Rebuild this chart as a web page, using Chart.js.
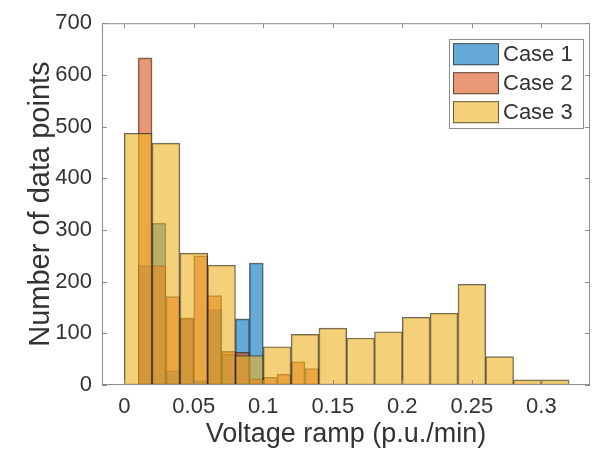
<!DOCTYPE html>
<html>
<head>
<meta charset="utf-8">
<script src="https://cdn.jsdelivr.net/npm/chart.js@4/dist/chart.umd.min.js"></script>
<style>
  html, body { margin: 0; padding: 0; background: #fff; }
  canvas { display: block; }
</style>
</head>
<body>
<canvas id="rampHist" width="608" height="457"></canvas>
<script>
// bin edges (p.u./min)
const fineEdges = [0.01, 0.02, 0.03, 0.04, 0.05, 0.06, 0.07, 0.08, 0.09, 0.10, 0.11, 0.12, 0.13, 0.14];
const coarseEdges = [0, 0.02, 0.04, 0.06, 0.08, 0.10, 0.12, 0.14, 0.16, 0.18, 0.20, 0.22, 0.24, 0.26, 0.28, 0.30, 0.32];

// counts per bin
const case1Counts = [231, 313, 28, 128, 8, 146, 60, 128, 236];
const case2Counts = [633, 231, 171, 130, 250, 173, 65, 63, 12, 15, 21, 45, 32];
const case3Counts = [487, 468, 255, 232, 57, 74, 98, 110, 91, 103, 131, 139, 195, 55, 10, 10];

const xTicks = [0, 0.05, 0.1, 0.15, 0.2, 0.25, 0.3];
const yTicks = [0, 100, 200, 300, 400, 500, 600, 700];

const seriesNames = ['Case 1', 'Case 2', 'Case 3'];

const FONT = '"Liberation Sans", Arial, Helvetica, sans-serif';
const textColor = '#333333';
const axisColor = '#8c8c8c';
const edgeColor = 'rgba(38, 38, 38, 0.7)';

// MATLAB default colors, FaceAlpha 0.6
const faceColors = [
  'rgba(0, 114, 189, 0.6)',
  'rgba(217, 83, 25, 0.6)',
  'rgba(237, 177, 32, 0.6)'
];

function toBars(edges, counts) {
  return counts.map((c, i) => ({ x: (edges[i] + edges[i + 1]) / 2, y: c }));
}

function fixedTicks(list) {
  return function (scale) {
    scale.ticks = list.map(v => ({ value: v }));
  };
}

function barSet(i, data, axis, order) {
  return {
    label: seriesNames[i],
    data: data,
    xAxisID: axis,
    order: order,
    backgroundColor: faceColors[i],
    borderColor: edgeColor,
    borderWidth: 1,
    borderSkipped: false,
    grouped: false,
    categoryPercentage: 1,
    barPercentage: 1
  };
}

// box round the axes with inward ticks on all four sides
const axesBox = {
  id: 'axesBox',
  afterDatasetsDraw(chart) {
    const { ctx, chartArea: a, scales } = chart;
    const tickLen = 5;
    ctx.save();
    ctx.strokeStyle = axisColor;
    ctx.lineWidth = 1;
    ctx.strokeRect(a.left + 0.5, a.top + 0.5, a.width - 1, a.height - 1);
    ctx.beginPath();
    scales.x.ticks.forEach(t => {
      const px = Math.round(scales.x.getPixelForValue(t.value)) + 0.5;
      ctx.moveTo(px, a.bottom); ctx.lineTo(px, a.bottom - tickLen);
      ctx.moveTo(px, a.top); ctx.lineTo(px, a.top + tickLen);
    });
    scales.y.ticks.forEach(t => {
      const py = Math.round(scales.y.getPixelForValue(t.value)) + 0.5;
      ctx.moveTo(a.left, py); ctx.lineTo(a.left + tickLen, py);
      ctx.moveTo(a.right, py); ctx.lineTo(a.right - tickLen, py);
    });
    ctx.stroke();
    ctx.restore();
  }
};

// legend box in the upper right corner of the axes
const cornerLegend = {
  id: 'cornerLegend',
  afterDraw(chart) {
    const { ctx, chartArea: a } = chart;
    const sets = chart.data.datasets.slice().sort((p, q) => seriesNames.indexOf(p.label) - seriesNames.indexOf(q.label));
    const boxW = 134, rowH = 29, padTop = 4;
    const right = a.right - 7, top = a.top + 16;
    const left = right - boxW;
    const boxH = padTop * 2 + rowH * sets.length - 6;
    ctx.save();
    ctx.fillStyle = '#ffffff';
    ctx.fillRect(left, top, boxW, boxH);
    ctx.strokeStyle = axisColor;
    ctx.lineWidth = 1;
    ctx.strokeRect(Math.round(left) + 0.5, Math.round(top) + 0.5, boxW, Math.round(boxH));
    ctx.font = '22px ' + FONT;
    ctx.textBaseline = 'middle';
    ctx.textAlign = 'left';
    sets.forEach((ds, i) => {
      const y0 = top + padTop + i * rowH;
      ctx.fillStyle = ds.backgroundColor;
      ctx.fillRect(left + 4, y0, 46, 22);
      ctx.strokeStyle = edgeColor;
      ctx.strokeRect(left + 4.5, y0 + 0.5, 45, 21);
      ctx.fillStyle = textColor;
      ctx.fillText(ds.label, left + 54, y0 + 12);
    });
    ctx.restore();
  }
};

new Chart(document.getElementById('rampHist'), {
  type: 'bar',
  data: {
    datasets: [
      barSet(0, toBars(fineEdges, case1Counts), 'xFine', 3),
      barSet(1, toBars(fineEdges, case2Counts), 'xFine', 2),
      barSet(2, toBars(coarseEdges, case3Counts), 'x', 1)
    ]
  },
  options: {
    responsive: false,
    animation: false,
    devicePixelRatio: 1,
    layout: { padding: { top: 17, right: 18, bottom: 0, left: 0 } },
    plugins: {
      legend: { display: false },
      tooltip: { enabled: false }
    },
    scales: {
      x: {
        type: 'linear',
        position: 'bottom',
        offset: false,
        min: -0.016,
        max: 0.335,
        afterBuildTicks: fixedTicks(xTicks),
        afterFit(scale) { scale.height = 72; },
        grid: { display: false, drawTicks: false, offset: false },
        border: { display: false },
        ticks: {
          padding: 9,
          color: textColor,
          font: { family: FONT, size: 22 },
          maxRotation: 0,
          callback: v => String(v)
        },
        title: {
          display: true,
          text: 'Voltage ramp (p.u./min)',
          color: textColor,
          font: { family: FONT, size: 27 },
          padding: { top: 0, bottom: 6 }
        }
      },
      xFine: {
        type: 'linear',
        display: false,
        offset: false,
        grid: { offset: false },
        min: -0.016,
        max: 0.335,
        afterBuildTicks: fixedTicks(xTicks)
      },
      y: {
        type: 'linear',
        min: 0,
        max: 700,
        afterBuildTicks: fixedTicks(yTicks),
        afterFit(scale) { scale.width = 102; },
        grid: { display: false, drawTicks: false },
        border: { display: false },
        ticks: {
          padding: 10,
          color: textColor,
          font: { family: FONT, size: 22 }
        },
        title: {
          display: true,
          text: 'Number of data points',
          color: textColor,
          font: { family: FONT, size: 29 },
          padding: { top: 24, bottom: 0 }
        }
      }
    }
  },
  plugins: [axesBox, cornerLegend]
});
</script>
</body>
</html>
